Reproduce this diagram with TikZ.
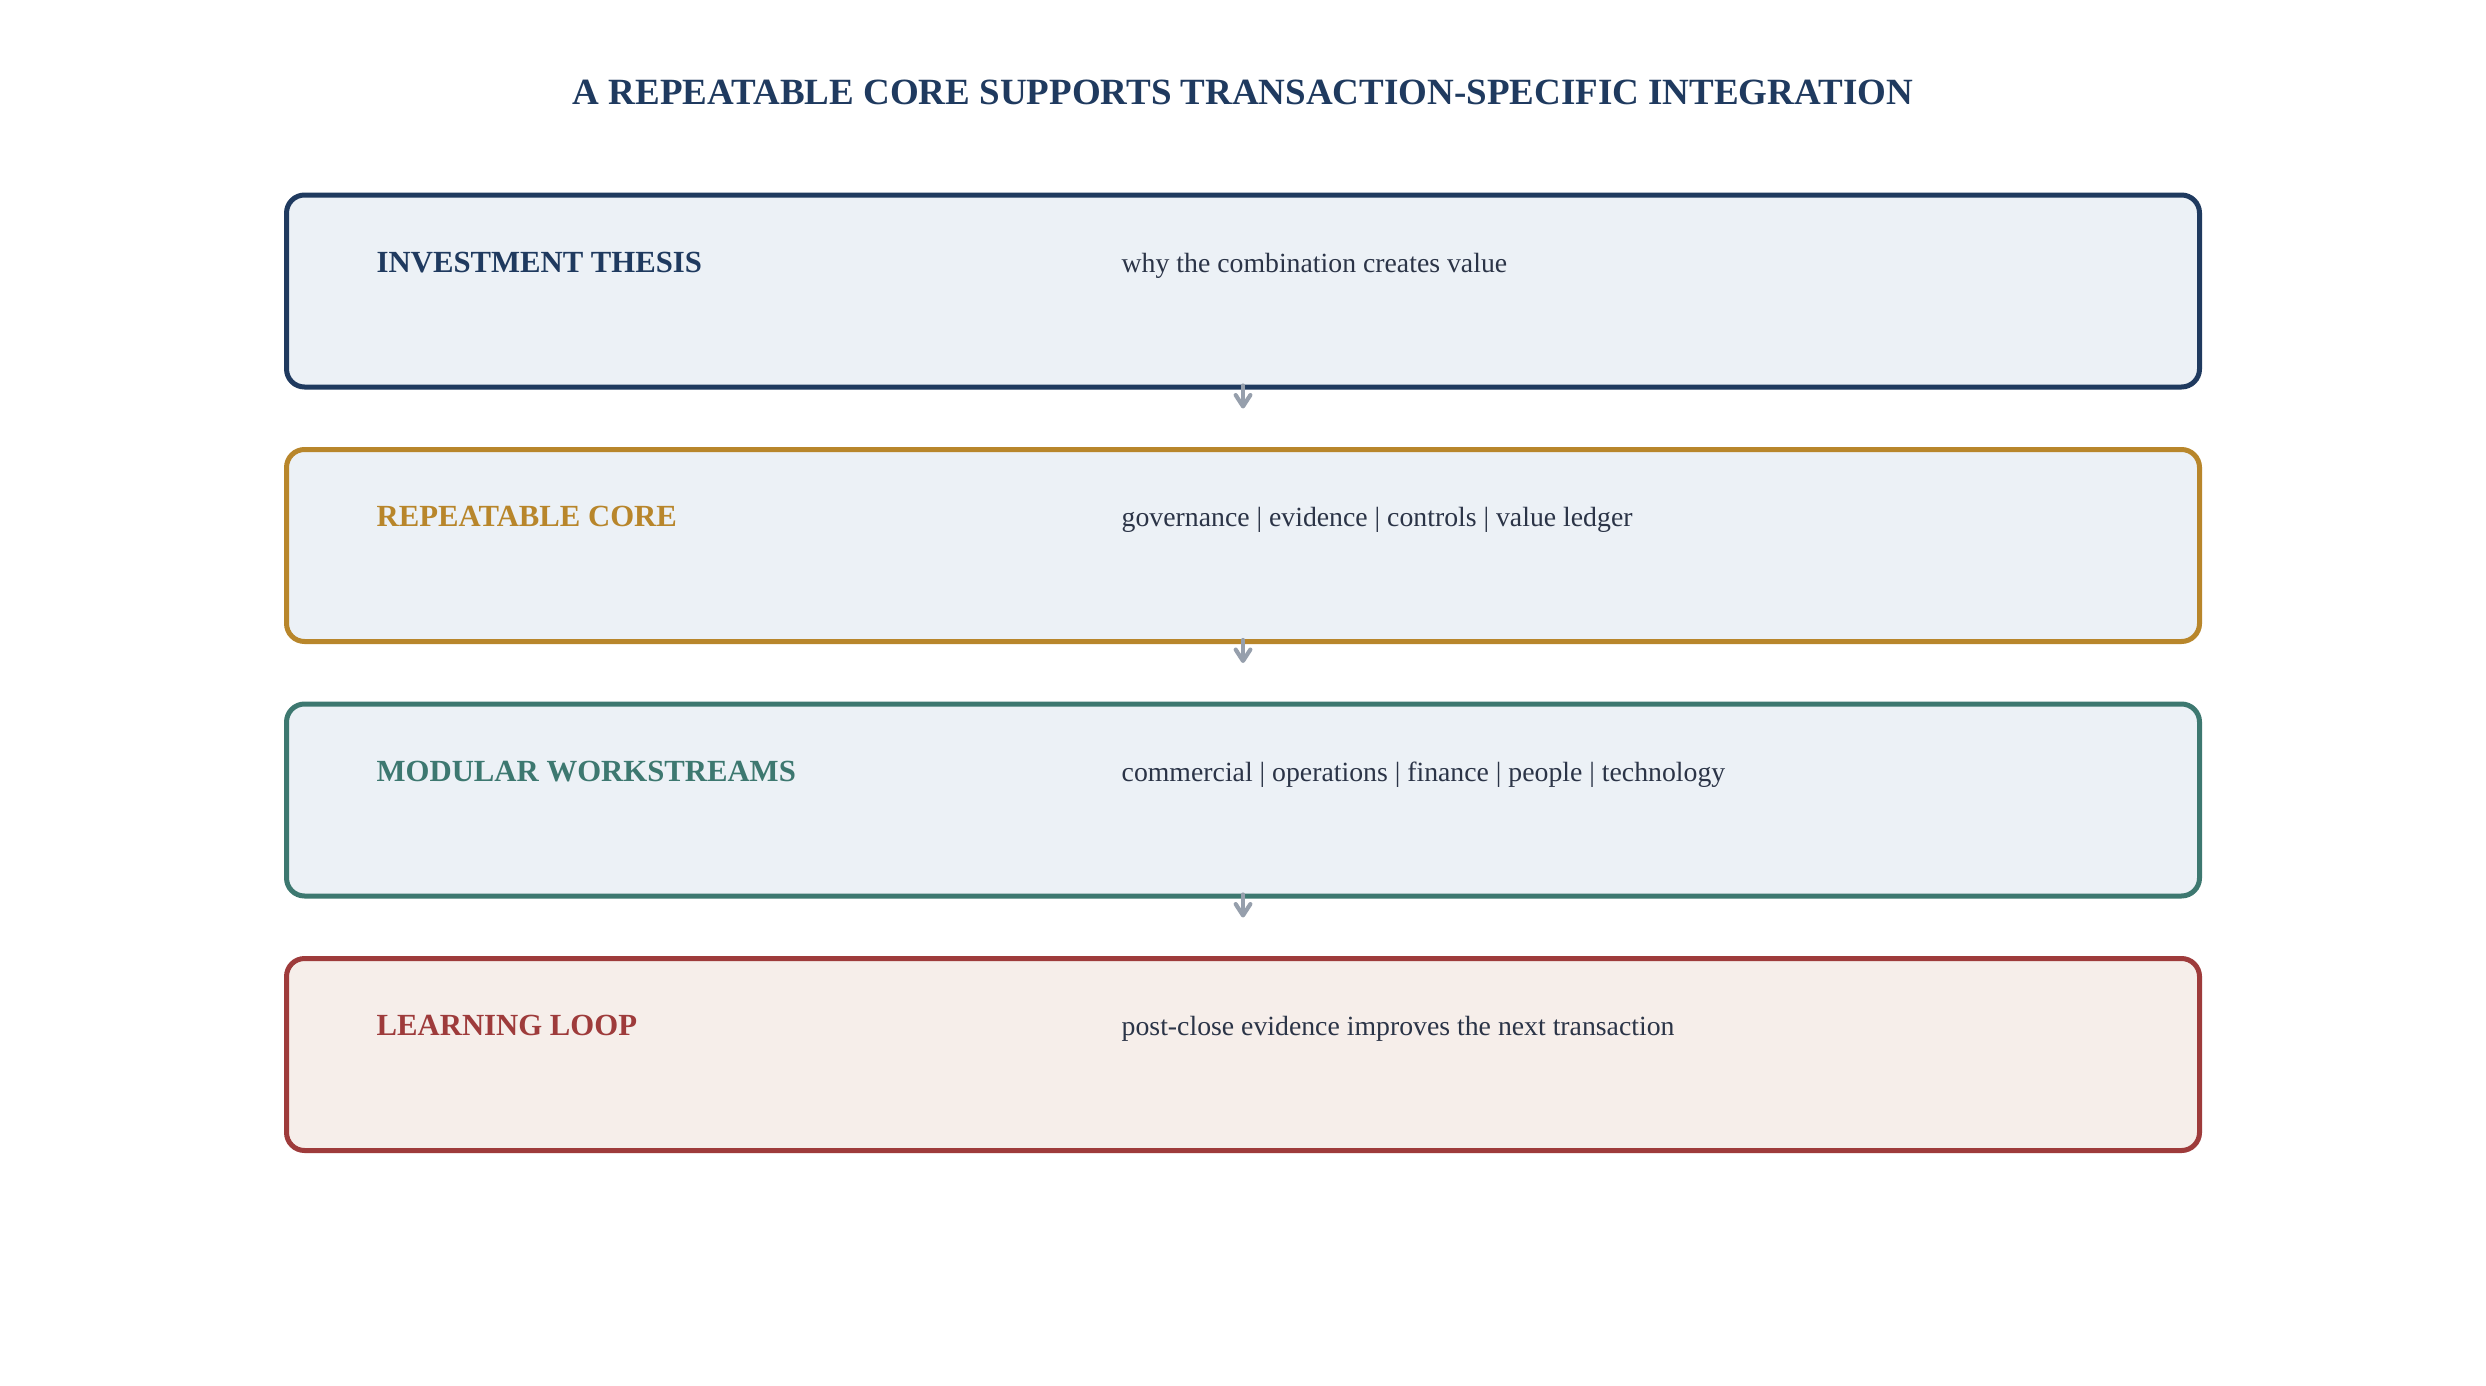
\documentclass[tikz,border=0pt]{standalone}
\usepackage{fontspec}
\setmainfont{Liberation Serif}
\usetikzlibrary{arrows.meta,calc}
\definecolor{navy}{HTML}{1F3A5F}
\definecolor{gold}{HTML}{B8862B}
\definecolor{teal}{HTML}{3D7870}
\definecolor{brick}{HTML}{9E3B3B}
\definecolor{fillblue}{HTML}{ECF1F6}
\definecolor{fillcream}{HTML}{F6EEEA}
\definecolor{desc}{HTML}{2B3447}
\definecolor{arrowgray}{HTML}{969FAC}
\begin{document}
\begin{tikzpicture}[x=0.3pt,y=-0.3pt,
  layerbox/.style={draw, line width=1.5pt, rounded corners=5.4pt, minimum width=573.9pt, minimum height=57.6pt, inner sep=0pt},
  heading/.style={anchor=base west, inner sep=0pt, font=\fontsize{9.22pt}{11pt}\selectfont\bfseries},
  desctext/.style={anchor=base west, inner sep=0pt, text=desc, font=\fontsize{8.33pt}{10pt}\selectfont},
  flow/.style={draw=arrowgray, line width=1.25pt, line cap=round, -{Straight Barb[length=3.4pt,width=4.4pt,line cap=round,line join=round]}}
]
\useasboundingbox[fill=white] (0,0) rectangle (2486,1386);

\node[anchor=base, inner sep=0pt, text=navy, font=\fontsize{11.1pt}{13pt}\selectfont\bfseries] (title) at (1243,105) {A REPEATABLE CORE SUPPORTS TRANSACTION-SPECIFIC INTEGRATION};

\node[layerbox, draw=navy, fill=fillblue] (b1) at (1243,291) {};
\node[layerbox, draw=gold, fill=fillblue] (b2) at (1243,545.5) {};
\node[layerbox, draw=teal, fill=fillblue] (b3) at (1243,800) {};
\node[layerbox, draw=brick, fill=fillcream] (b4) at (1243,1054.5) {};

\node[heading, text=navy] (h1) at (376,272) {INVESTMENT THESIS};
\node[desctext] (d1) at (1121,272) {why the combination creates value};
\node[heading, text=gold] (h2) at (376,526.5) {REPEATABLE CORE};
\node[desctext] (d2) at (1121,526.5) {governance | evidence | controls | value ledger};
\node[heading, text=teal] (h3) at (376,781) {MODULAR WORKSTREAMS};
\node[desctext] (d3) at (1121,781) {commercial | operations | finance | people | technology};
\node[heading, text=brick] (h4) at (376,1035.5) {LEARNING LOOP};
\node[desctext] (d4) at (1121,1035.5) {post-close evidence improves the next transaction};

\coordinate (t1) at ($(b1.south)+(0,19)$);
\coordinate (t2) at ($(b2.south)+(0,19)$);
\coordinate (t3) at ($(b3.south)+(0,19)$);
\draw[flow] ($(b1.south)+(0,-4)$) -- (t1);
\draw[flow] ($(b2.south)+(0,-4)$) -- (t2);
\draw[flow] ($(b3.south)+(0,-4)$) -- (t3);
\end{tikzpicture}
\end{document}
